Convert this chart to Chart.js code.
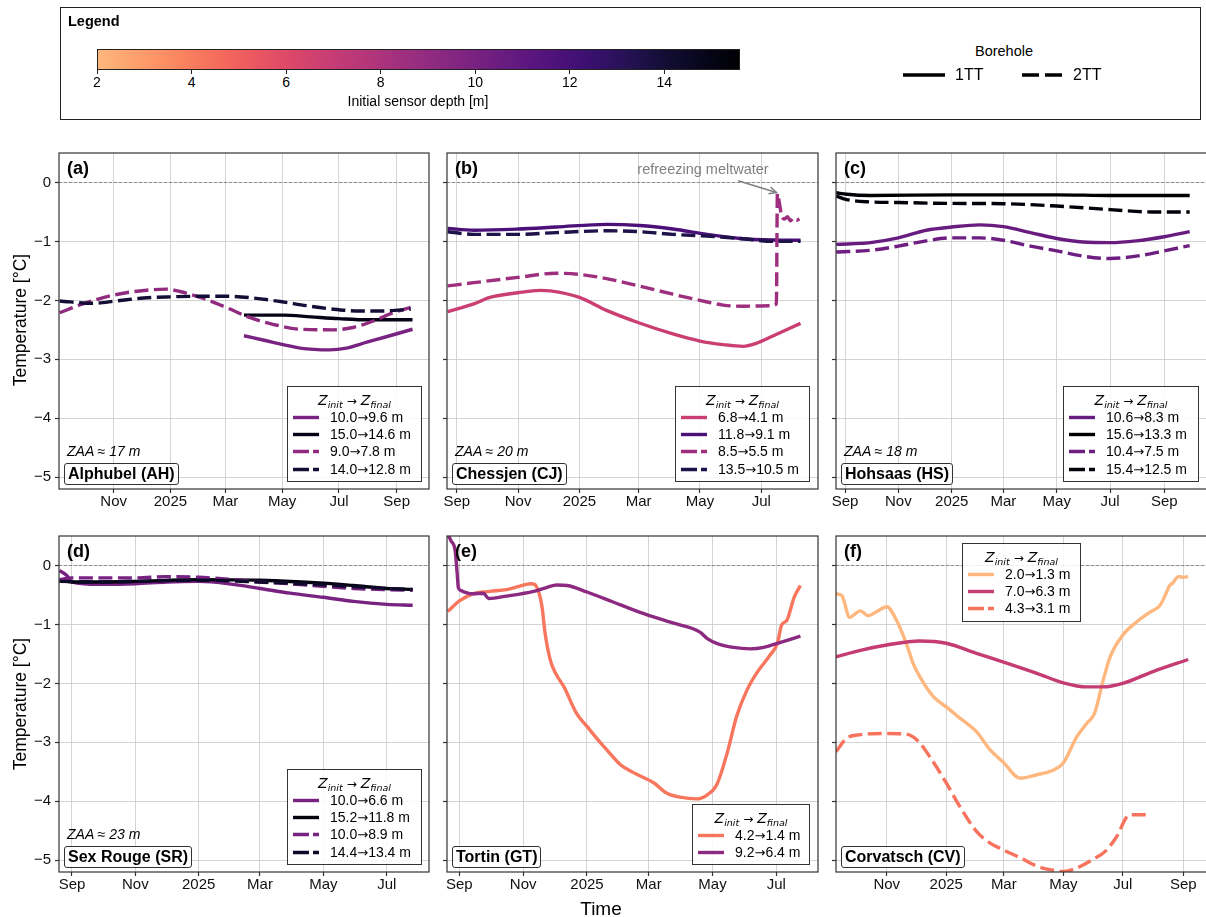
<!DOCTYPE html>
<html lang="en">
<head>
<meta charset="utf-8">
<title>Borehole temperatures</title>
<script src="https://cdn.jsdelivr.net/npm/chart.js@4.4.1/dist/chart.umd.min.js"></script>
<style>
html,body{margin:0;padding:0;background:#fff;}
body{position:relative;width:1206px;height:917px;overflow:hidden;font-family:"Liberation Sans",Arial,Helvetica,sans-serif;color:#000;}
canvas{position:absolute;display:block;}
.t{position:absolute;white-space:nowrap;}
.lg{position:absolute;box-sizing:border-box;border:1px solid #333;background:rgba(255,255,255,0.85);}
.lgt{position:absolute;left:0;right:0;text-align:center;font-family:"DejaVu Sans",sans-serif;font-size:14px;line-height:14px;white-space:nowrap;}
.lgt sub{font-size:9.5px;vertical-align:-3px;line-height:0;}
.lgt .ar{font-style:normal;font-size:12px;padding:0 4px;}
.lgr{position:absolute;left:0;height:17px;width:100%;}
.lgr svg{position:absolute;left:0;top:0;}
.lgr span.lab{position:absolute;left:42px;top:0;font-size:14px;line-height:17px;white-space:nowrap;}
.lgr span.ar{font-family:"DejaVu Sans",sans-serif;font-size:13px;}
.site{position:absolute;box-sizing:border-box;border:1px solid #333;border-radius:3px;background:rgba(255,255,255,0.85);font-weight:bold;font-size:16px;line-height:20px;height:22px;padding:0 3px;white-space:nowrap;}
</style>
</head>
<body>
<script>
const FONT = '"Liberation Sans", Arial, Helvetica, sans-serif';
Chart.defaults.font.family = FONT;

// ---------- axis ticks / labels ----------
const TICK_DATES  = ['2024-09-01','2024-11-01','2025-01-01','2025-03-01','2025-05-01','2025-07-01','2025-09-01'];
const TICK_LABELS = ['Sep','Nov','2025','Mar','May','Jul','Sep'];
const Y_TICKS = [-5,-4,-3,-2,-1,0];
const Y_TICK_LABELS = ['\u22125','\u22124','\u22123','\u22122','\u22121','0'];
const CBAR_TICKS = [2,4,6,8,10,12,14];
const DEPTH_MIN = 2, DEPTH_MAX = 15.6;

// ---------- (a) Alphubel ----------
const AH_10_0 = [['2025-03-21',-2.60],['2025-04-14',-2.685],['2025-05-02',-2.75],['2025-05-20',-2.81],['2025-06-21',-2.84],['2025-07-09',-2.81],['2025-07-31',-2.71],['2025-08-18',-2.63],['2025-09-18',-2.49]];
const AH_15_0 = [['2025-03-21',-2.25],['2025-05-02',-2.25],['2025-06-01',-2.28],['2025-07-01',-2.31],['2025-08-01',-2.33],['2025-09-18',-2.33]];
const AH_9_0  = [['2024-09-04',-2.21],['2024-09-29',-2.06],['2024-11-01',-1.91],['2024-11-29',-1.84],['2024-12-28',-1.81],['2025-01-11',-1.85],['2025-02-02',-1.95],['2025-03-02',-2.12],['2025-03-27',-2.29],['2025-04-22',-2.41],['2025-05-20',-2.49],['2025-06-25',-2.50],['2025-07-16',-2.46],['2025-08-07',-2.35],['2025-08-28',-2.21],['2025-09-16',-2.12]];
const AH_14_0 = [['2024-09-04',-2.01],['2024-10-09',-2.05],['2024-11-04',-2.01],['2024-12-03',-1.96],['2025-01-01',-1.94],['2025-02-02',-1.93],['2025-03-02',-1.93],['2025-03-31',-1.96],['2025-04-29',-2.02],['2025-05-27',-2.09],['2025-06-25',-2.15],['2025-07-24',-2.18],['2025-08-18',-2.18],['2025-09-16',-2.15]];

// ---------- (b) Chessjen ----------
const CJ_6_8  = [['2024-08-23',-2.19],['2024-09-18',-2.06],['2024-10-04',-1.95],['2024-11-01',-1.87],['2024-11-23',-1.83],['2024-12-03',-1.84],['2025-01-01',-1.95],['2025-01-28',-2.17],['2025-03-01',-2.38],['2025-04-04',-2.57],['2025-05-01',-2.69],['2025-05-24',-2.75],['2025-06-13',-2.78],['2025-06-26',-2.73],['2025-07-13',-2.60],['2025-08-09',-2.39]];
const CJ_11_8 = [['2024-08-23',-0.78],['2024-09-18',-0.81],['2024-11-01',-0.79],['2024-12-09',-0.756],['2025-01-28',-0.71],['2025-03-02',-0.73],['2025-04-04',-0.79],['2025-05-08',-0.88],['2025-06-10',-0.95],['2025-07-13',-0.976],['2025-08-09',-0.98]];
const CJ_8_5  = [['2024-08-23',-1.755],['2024-09-18',-1.70],['2024-11-01',-1.61],['2024-12-09',-1.54],['2025-01-01',-1.56],['2025-01-28',-1.63],['2025-03-01',-1.755],['2025-04-04',-1.895],['2025-05-01',-2.00],['2025-05-24',-2.08],['2025-06-13',-2.10],['2025-07-10',-2.09],['2025-07-16',-2.06],['2025-07-17',-0.19],['2025-07-19',-0.35],['2025-07-21',-0.55],['2025-07-24',-0.62],['2025-07-27',-0.58],['2025-07-30',-0.65],['2025-08-02',-0.60],['2025-08-05',-0.64],['2025-08-08',-0.62]];
const CJ_13_5 = [['2024-08-23',-0.835],['2024-09-18',-0.88],['2024-11-01',-0.88],['2024-12-09',-0.85],['2025-01-28',-0.82],['2025-03-02',-0.835],['2025-04-04',-0.88],['2025-05-08',-0.91],['2025-06-10',-0.95],['2025-07-13',-1.0],['2025-08-09',-1.0]];
const CJ_NOTE = {text:'refreezing meltwater', textAt:['2025-05-04',0.22], from:['2025-06-08',0.03], to:['2025-07-16',-0.17]};

// ---------- (c) Hohsaas ----------
const HS_10_6 = [['2024-08-22',-1.05],['2024-09-30',-1.02],['2024-11-01',-0.94],['2024-12-03',-0.81],['2025-01-01',-0.756],['2025-02-02',-0.72],['2025-03-01',-0.75],['2025-04-01',-0.85],['2025-05-01',-0.95],['2025-05-31',-1.01],['2025-07-01',-1.02],['2025-07-31',-0.99],['2025-09-01',-0.92],['2025-09-30',-0.835]];
const HS_15_6 = [['2024-08-22',-0.175],['2024-09-03',-0.20],['2024-09-30',-0.22],['2025-01-01',-0.21],['2025-05-01',-0.21],['2025-07-01',-0.22],['2025-09-30',-0.22]];
const HS_10_4 = [['2024-08-22',-1.18],['2024-09-30',-1.15],['2024-11-01',-1.08],['2024-12-03',-0.99],['2025-01-01',-0.94],['2025-02-02',-0.94],['2025-03-01',-0.98],['2025-04-01',-1.08],['2025-05-01',-1.16],['2025-05-31',-1.25],['2025-07-01',-1.29],['2025-07-31',-1.25],['2025-09-01',-1.16],['2025-09-30',-1.07]];
const HS_15_4 = [['2024-08-22',-0.23],['2024-09-03',-0.29],['2024-09-30',-0.33],['2024-11-01',-0.34],['2025-01-01',-0.355],['2025-03-01',-0.36],['2025-05-01',-0.40],['2025-07-01',-0.46],['2025-08-19',-0.50],['2025-09-30',-0.50]];

// ---------- (d) Sex Rouge ----------
const SR_10_0A = [['2024-08-20',-0.085],['2024-08-27',-0.17],['2024-09-01',-0.28],['2024-09-28',-0.32],['2024-11-01',-0.31],['2024-12-01',-0.28],['2025-01-01',-0.27],['2025-02-03',-0.32],['2025-03-01',-0.39],['2025-03-30',-0.47],['2025-05-01',-0.54],['2025-05-30',-0.61],['2025-07-01',-0.66],['2025-07-26',-0.675]];
const SR_15_2  = [['2024-08-20',-0.25],['2024-09-01',-0.28],['2024-09-28',-0.28],['2024-11-01',-0.27],['2025-01-01',-0.24],['2025-03-01',-0.25],['2025-05-01',-0.30],['2025-05-30',-0.34],['2025-07-01',-0.39],['2025-07-26',-0.405]];
const SR_10_0B = [['2024-08-20',-0.24],['2024-09-01',-0.21],['2024-09-28',-0.21],['2024-11-01',-0.21],['2024-12-01',-0.19],['2025-01-01',-0.20],['2025-02-03',-0.24],['2025-03-01',-0.28],['2025-03-30',-0.31],['2025-05-01',-0.355],['2025-05-30',-0.39],['2025-07-01',-0.41],['2025-07-26',-0.42]];
const SR_14_4  = [['2024-08-20',-0.27],['2024-09-28',-0.28],['2025-01-01',-0.25],['2025-03-01',-0.28],['2025-05-01',-0.33],['2025-07-01',-0.39],['2025-07-26',-0.41]];

// ---------- (e) Tortin ----------
const GT_4_2 = [['2024-08-21',-0.78],['2024-09-01',-0.60],['2024-09-14',-0.48],['2024-09-30',-0.44],['2024-10-16',-0.41],['2024-10-29',-0.35],['2024-11-08',-0.31],['2024-11-12',-0.32],['2024-11-16',-0.46],['2024-11-19',-0.70],['2024-11-22',-1.155],['2024-11-27',-1.61],['2024-12-02',-1.83],['2024-12-10',-2.06],['2024-12-22',-2.51],['2025-01-01',-2.73],['2025-01-14',-3.01],['2025-01-20',-3.13],['2025-02-02',-3.38],['2025-02-14',-3.51],['2025-03-06',-3.69],['2025-03-18',-3.86],['2025-03-31',-3.93],['2025-04-16',-3.96],['2025-04-26',-3.89],['2025-05-05',-3.72],['2025-05-15',-3.18],['2025-05-24',-2.56],['2025-06-03',-2.11],['2025-06-12',-1.83],['2025-06-25',-1.52],['2025-07-02',-1.32],['2025-07-06',-1.01],['2025-07-11',-0.93],['2025-07-18',-0.54],['2025-07-24',-0.34]];
const GT_9_2 = [['2024-08-20',0.56],['2024-08-24',0.42],['2024-08-28',0.25],['2024-08-30',-0.15],['2024-08-31',-0.37],['2024-09-02',-0.42],['2024-09-14',-0.48],['2024-09-24',-0.47],['2024-09-29',-0.56],['2024-10-16',-0.52],['2024-11-11',-0.44],['2024-11-24',-0.37],['2024-12-03',-0.33],['2024-12-13',-0.34],['2025-01-01',-0.45],['2025-01-26',-0.62],['2025-02-20',-0.79],['2025-03-24',-0.975],['2025-04-19',-1.13],['2025-04-26',-1.24],['2025-05-05',-1.32],['2025-05-21',-1.39],['2025-06-06',-1.415],['2025-06-19',-1.39],['2025-07-02',-1.32],['2025-07-24',-1.20]];

// ---------- (f) Corvatsch ----------
const CV_2_0 = [['2024-09-10',-0.48],['2024-09-16',-0.51],['2024-09-24',-0.88],['2024-10-05',-0.77],['2024-10-13',-0.85],['2024-10-22',-0.78],['2024-11-01',-0.70],['2024-11-11',-0.93],['2024-11-21',-1.32],['2024-11-28',-1.66],['2024-12-05',-1.89],['2024-12-19',-2.23],['2025-01-01',-2.40],['2025-01-15',-2.59],['2025-02-01',-2.82],['2025-02-15',-3.13],['2025-02-28',-3.33],['2025-03-18',-3.61],['2025-04-04',-3.55],['2025-04-21',-3.47],['2025-05-01',-3.35],['2025-05-15',-2.90],['2025-05-25',-2.68],['2025-06-02',-2.51],['2025-06-11',-1.94],['2025-06-18',-1.55],['2025-07-01',-1.18],['2025-07-15',-0.96],['2025-07-29',-0.79],['2025-08-08',-0.68],['2025-08-15',-0.45],['2025-08-18',-0.34],['2025-08-21',-0.30],['2025-08-27',-0.19],['2025-09-01',-0.20],['2025-09-06',-0.19]];
const CV_7_0 = [['2024-09-10',-1.55],['2024-10-05',-1.44],['2024-11-01',-1.35],['2024-12-05',-1.28],['2025-01-01',-1.32],['2025-02-01',-1.49],['2025-02-28',-1.635],['2025-04-04',-1.83],['2025-05-01',-1.99],['2025-05-25',-2.06],['2025-06-11',-2.06],['2025-07-01',-2.00],['2025-08-01',-1.80],['2025-09-06',-1.595]];
const CV_4_3 = [['2024-09-10',-3.16],['2024-09-21',-2.93],['2024-10-05',-2.87],['2024-11-01',-2.85],['2024-11-21',-2.86],['2024-12-02',-2.96],['2024-12-15',-3.24],['2025-01-01',-3.69],['2025-01-15',-4.09],['2025-02-01',-4.51],['2025-02-15',-4.71],['2025-02-28',-4.82],['2025-03-18',-4.96],['2025-04-04',-5.10],['2025-04-21',-5.17],['2025-05-01',-5.19],['2025-05-15',-5.13],['2025-05-31',-4.99],['2025-06-13',-4.85],['2025-06-24',-4.62],['2025-07-08',-4.23],['2025-07-29',-4.23]];

// ---------- panel layout (rect = plot area in px; xlim in days since 2024-01-01) ----------
const PANELS = [
  {tag:'(a)', site:'Alphubel (AH)', zaa:'ZAA \u2248 17 m', rect:[59,152,429,489], xlim:[246.3,643.7], yLabels:true, legend:[287,386,135],
   series:[{data:AH_10_0,init:10.0,hole:'1TT',label:'10.0\u21929.6 m'},{data:AH_15_0,init:15.0,hole:'1TT',label:'15.0\u219214.6 m'},{data:AH_9_0,init:9.0,hole:'2TT',label:'9.0\u21927.8 m'},{data:AH_14_0,init:14.0,hole:'2TT',label:'14.0\u219212.8 m'}]},
  {tag:'(b)', site:'Chessjen (CJ)', zaa:'ZAA \u2248 20 m', rect:[447,152,818,489], xlim:[234.3,603.4], yLabels:false, legend:[675,386,135], note:CJ_NOTE,
   series:[{data:CJ_6_8,init:6.8,hole:'1TT',label:'6.8\u21924.1 m'},{data:CJ_11_8,init:11.8,hole:'1TT',label:'11.8\u21929.1 m'},{data:CJ_8_5,init:8.5,hole:'2TT',label:'8.5\u21925.5 m'},{data:CJ_13_5,init:13.5,hole:'2TT',label:'13.5\u219210.5 m'}]},
  {tag:'(c)', site:'Hohsaas (HS)', zaa:'ZAA \u2248 18 m', rect:[836,152,1207,489], xlim:[233.7,657.8], yLabels:false, legend:[1063,386,136],
   series:[{data:HS_10_6,init:10.6,hole:'1TT',label:'10.6\u21928.3 m'},{data:HS_15_6,init:15.6,hole:'1TT',label:'15.6\u219213.3 m'},{data:HS_10_4,init:10.4,hole:'2TT',label:'10.4\u21927.5 m'},{data:HS_15_4,init:15.4,hole:'2TT',label:'15.4\u219212.5 m'}]},
  {tag:'(d)', site:'Sex Rouge (SR)', zaa:'ZAA \u2248 23 m', rect:[59,535,429,872], xlim:[231.5,587.7], yLabels:true, legend:[287,769,135],
   series:[{data:SR_10_0A,init:10.0,hole:'1TT',label:'10.0\u21926.6 m'},{data:SR_15_2,init:15.2,hole:'1TT',label:'15.2\u219211.8 m'},{data:SR_10_0B,init:10.0,hole:'2TT',label:'10.0\u21928.9 m'},{data:SR_14_4,init:14.4,hole:'2TT',label:'14.4\u219213.4 m'}]},
  {tag:'(e)', site:'Tortin (GT)', zaa:null, rect:[447,535,818,872], xlim:[232.2,586.8], yLabels:false, legend:[692,804,118],
   series:[{data:GT_4_2,init:4.2,hole:'1TT',label:'4.2\u21921.4 m'},{data:GT_9_2,init:9.2,hole:'1TT',label:'9.2\u21926.4 m'}]},
  {tag:'(f)', site:'Corvatsch (CV)', zaa:null, rect:[836,535,1207,872], xlim:[253.0,633.3], yLabels:false, legend:[962,543,119],
   series:[{data:CV_2_0,init:2.0,hole:'1TT',label:'2.0\u21921.3 m'},{data:CV_7_0,init:7.0,hole:'1TT',label:'7.0\u21926.3 m'},{data:CV_4_3,init:4.3,hole:'2TT',label:'4.3\u21923.1 m'}]}
];

// ---------- helpers ----------
const EPOCH = Date.UTC(2024,0,1);
function dayNum(s){const [y,m,d]=s.split('-').map(Number);return (Date.UTC(y,m-1,d)-EPOCH)/86400000;}
const TICK_DAYS = TICK_DATES.map(dayNum);
const MAGMA = ['#000004','#07061c','#140e36','#251255','#3b0f70','#51127c','#641a80','#782281','#8c2981','#a1307e','#b73779','#ca3e72','#de4968','#ed5a5f','#f7705c','#fc8961','#fe9f6d','#feb77e','#fecf92','#fde7a9','#fcfdbf'];
function hx(h){return [parseInt(h.slice(1,3),16),parseInt(h.slice(3,5),16),parseInt(h.slice(5,7),16)];}
function magma(t){t=Math.max(0,Math.min(1,t));const f=t*20;const i=Math.min(19,Math.floor(f));const r=f-i;const a=hx(MAGMA[i]),b=hx(MAGMA[i+1]);
  return 'rgb('+a.map((v,k)=>Math.round(v+(b[k]-v)*r)).join(',')+')';}
function depthColor(d){return magma(0.85*(DEPTH_MAX-d)/(DEPTH_MAX-DEPTH_MIN));}
const DASH = [14,5.5];
const LW = 3.4;
const GRID = 'rgba(205,205,205,0.85)';

function addText(content,x,yc,o={}){
  const size=o.size||14;
  const d=document.createElement('div'); d.className='t';
  if(o.html) d.innerHTML=content; else d.textContent=content;
  d.style.fontSize=size+'px'; d.style.lineHeight=size+'px';
  d.style.fontWeight=o.weight||'normal'; d.style.fontStyle=o.style||'normal';
  d.style.color=o.color||'#000'; d.style.fontFamily=o.family||FONT;
  d.style.left=x+'px'; d.style.top=(yc-size/2)+'px';
  if(o.align==='center') d.style.transform='translateX(-50%)';
  if(o.rotate){d.style.top=yc+'px';d.style.transform='translate(-50%,-50%) rotate(-90deg)';}
  document.body.appendChild(d); return d;
}
function lineSvg(w,color,dashed,dash){
  const arr = dashed ? ' stroke-dasharray="'+(dash||DASH.join(' '))+'"' : '';
  return '<svg width="'+w+'" height="17" xmlns="http://www.w3.org/2000/svg"><line x1="5" y1="8.5" x2="'+(w-9)+'" y2="8.5" stroke="'+color+'" stroke-width="'+LW+'"'+arr+'/></svg>';
}

// ---------- plugins ----------
const framePlugin = {
  id:'frame',
  beforeDatasetsDraw(chart){
    const {ctx,chartArea:a,scales:{y}}=chart; const py=Math.round(y.getPixelForValue(0))+0.5;
    ctx.save(); ctx.strokeStyle='#7a7a7a'; ctx.lineWidth=0.8; ctx.setLineDash([3,2]);
    ctx.beginPath(); ctx.moveTo(a.left,py); ctx.lineTo(a.right,py); ctx.stroke(); ctx.restore();
  },
  afterDatasetsDraw(chart){
    const {ctx,chartArea:a}=chart;
    ctx.save(); ctx.strokeStyle='#333'; ctx.lineWidth=1.2;
    ctx.strokeRect(a.left,a.top,a.right-a.left,a.bottom-a.top); ctx.restore();
    const n=chart.options.plugins.frame && chart.options.plugins.frame.note;
    if(n){
      const {x,y}=chart.scales;
      const tx=x.getPixelForValue(dayNum(n.textAt[0])), ty=y.getPixelForValue(n.textAt[1]);
      ctx.save(); ctx.font='14.5px '+FONT; ctx.fillStyle='#808080'; ctx.textAlign='center'; ctx.textBaseline='middle';
      ctx.fillText(n.text,tx,ty);
      const x0=x.getPixelForValue(dayNum(n.from[0])), y0=y.getPixelForValue(n.from[1]);
      const x1=x.getPixelForValue(dayNum(n.to[0])), y1=y.getPixelForValue(n.to[1]);
      ctx.strokeStyle='#808080'; ctx.lineWidth=1.5;
      ctx.beginPath(); ctx.moveTo(x0,y0); ctx.lineTo(x1,y1); ctx.stroke();
      const ang=Math.atan2(y1-y0,x1-x0), L=8, s=0.45;
      ctx.beginPath(); ctx.moveTo(x1-L*Math.cos(ang-s),y1-L*Math.sin(ang-s)); ctx.lineTo(x1,y1);
      ctx.lineTo(x1-L*Math.cos(ang+s),y1-L*Math.sin(ang+s)); ctx.stroke();
      ctx.restore();
    }
  }
};

// ---------- build panels ----------
function makePanel(p){
  const [L,T,R,B]=p.rect;
  const padL=56,padT=12,padR=12,padB=34;
  const W=(R-L)+padL+padR, H=(B-T)+padT+padB;
  const cv=document.createElement('canvas');
  cv.width=W; cv.height=H; cv.style.width=W+'px'; cv.style.height=H+'px';
  cv.style.left=(L-padL)+'px'; cv.style.top=(T-padT)+'px';
  document.body.appendChild(cv);
  const datasets=p.series.map((s,i)=>({
    label:s.label,
    data:s.data.map(([d,v])=>({x:dayNum(d),y:v})),
    borderColor:depthColor(s.init), backgroundColor:depthColor(s.init),
    borderWidth:LW, borderDash:s.hole==='2TT'?DASH:[], borderCapStyle:'butt',
    pointRadius:0, fill:false, cubicInterpolationMode:'monotone', order:-i
  }));
  const tickMap={}; TICK_DAYS.forEach((v,i)=>tickMap[v]=TICK_LABELS[i]);
  new Chart(cv,{type:'line',data:{datasets},options:{
    responsive:false, animation:false, devicePixelRatio:1,
    layout:{padding:{left:0,top:padT,right:padR,bottom:0}},
    plugins:{legend:{display:false},tooltip:{enabled:false},frame:{note:p.note||null}},
    scales:{
      x:{type:'linear',min:p.xlim[0],max:p.xlim[1],
        afterFit:a=>{a.height=padB;},
        afterBuildTicks:a=>{a.ticks=TICK_DAYS.filter(v=>v>=a.min&&v<=a.max).map(v=>({value:v}));},
        ticks:{autoSkip:false,maxRotation:0,minRotation:0,padding:0,color:'#111',font:{size:15,family:FONT},callback:v=>tickMap[v]||''},
        grid:{color:GRID,lineWidth:1,tickLength:4,tickColor:'#333',tickWidth:1.2,drawTicks:true},
        border:{display:false}},
      y:{type:'linear',min:-5.2,max:0.5,
        afterFit:a=>{a.width=padL;},
        afterBuildTicks:a=>{a.ticks=Y_TICKS.map(v=>({value:v}));},
        ticks:{autoSkip:false,padding:4,color:'#111',font:{size:15,family:FONT},
          callback:v=>{const i=Y_TICKS.indexOf(v);return p.yLabels&&i>=0?Y_TICK_LABELS[i]:'';}},
        grid:{color:GRID,lineWidth:1,tickLength:4,tickColor:'#333',tickWidth:1.2,drawTicks:true},
        border:{display:false}}
    }
  },plugins:[framePlugin]});

  // panel tag, ZAA, site box
  addText(p.tag,L+8,T+16,{size:18,weight:'bold'});
  if(p.zaa) addText(p.zaa,L+8,B-38,{size:14,style:'italic'});
  const sb=document.createElement('div'); sb.className='site'; sb.textContent=p.site;
  sb.style.left=(L+5)+'px'; sb.style.top=(B-26)+'px'; document.body.appendChild(sb);

  // legend box
  const [lx,ly,lw]=p.legend; const n=p.series.length;
  const box=document.createElement('div'); box.className='lg';
  box.style.left=lx+'px'; box.style.top=ly+'px'; box.style.width=lw+'px'; box.style.height=(30+(n-1)*17.4+14)+'px';
  const tt=document.createElement('div'); tt.className='lgt'; tt.style.top=(12.5-7)+'px';
  tt.innerHTML='<i>Z</i><sub><i>init</i></sub><span class="ar">\u2192</span><i>Z</i><sub><i>final</i></sub>';
  box.appendChild(tt);
  p.series.forEach((s,i)=>{
    const r=document.createElement('div'); r.className='lgr'; r.style.top=(30+i*17.4-8.5)+'px';
    r.innerHTML=lineSvg(40,depthColor(s.init),s.hole==='2TT','16 4')+'<span class="lab"></span>';
    const lab=r.querySelector('span.lab');
    const parts=s.label.split('\u2192');
    lab.appendChild(document.createTextNode(parts[0]));
    const ar=document.createElement('span'); ar.className='ar'; ar.textContent='\u2192'; lab.appendChild(ar);
    lab.appendChild(document.createTextNode(parts[1]));
    box.appendChild(r);
  });
  document.body.appendChild(box);
}
PANELS.forEach(makePanel);

// ---------- figure labels ----------
addText('Temperature [\u00b0C]',21,320,{size:17.5,rotate:true});
addText('Temperature [\u00b0C]',21,704,{size:17.5,rotate:true});
addText('Time',601,908,{size:19,align:'center'});

// ---------- top legend box ----------
(function(){
  const box=document.createElement('div');
  box.style.cssText='position:absolute;left:60px;top:7px;width:1141px;height:113px;box-sizing:border-box;border:1px solid #222;background:#fff;';
  document.body.insertBefore(box,document.body.firstChild);
  addText('Legend',68,21,{size:14.5,weight:'bold'});
  const cbL=97,cbT=49,cbW=643,cbH=21;
  const stops=[];for(let k=0;k<=40;k++){const f=k/40;stops.push(depthColor(DEPTH_MIN+f*(DEPTH_MAX-DEPTH_MIN))+' '+(f*100).toFixed(1)+'%');}
  const cb=document.createElement('div');
  cb.style.cssText='position:absolute;left:'+cbL+'px;top:'+cbT+'px;width:'+cbW+'px;height:'+cbH+'px;box-sizing:border-box;border:1px solid #222;background:linear-gradient(to right,'+stops.join(',')+');';
  document.body.appendChild(cb);
  CBAR_TICKS.forEach(v=>{
    const x=cbL+(v-DEPTH_MIN)/(DEPTH_MAX-DEPTH_MIN)*cbW;
    const tk=document.createElement('div');
    tk.style.cssText='position:absolute;left:'+(x-0.5)+'px;top:'+(cbT+cbH)+'px;width:1px;height:4px;background:#222;';
    document.body.appendChild(tk);
    addText(String(v),x,82,{size:14,align:'center'});
  });
  addText('Initial sensor depth [m]',418,101,{size:14,align:'center'});
  addText('Borehole',1004,51,{size:14.5,align:'center'});
  const s1=document.createElement('div'); s1.style.cssText='position:absolute;left:898px;top:66px;';
  s1.innerHTML='<svg width="52" height="18"><line x1="5" y1="9" x2="47" y2="9" stroke="#000" stroke-width="3.5"/></svg>';
  document.body.appendChild(s1);
  addText('1TT',955,75,{size:16});
  const s2=document.createElement('div'); s2.style.cssText='position:absolute;left:1017px;top:66px;';
  s2.innerHTML='<svg width="52" height="18"><line x1="5" y1="9" x2="46" y2="9" stroke="#000" stroke-width="3.5" stroke-dasharray="17 6"/></svg>';
  document.body.appendChild(s2);
  addText('2TT',1073,75,{size:16});
})();
</script>
</body>
</html>
